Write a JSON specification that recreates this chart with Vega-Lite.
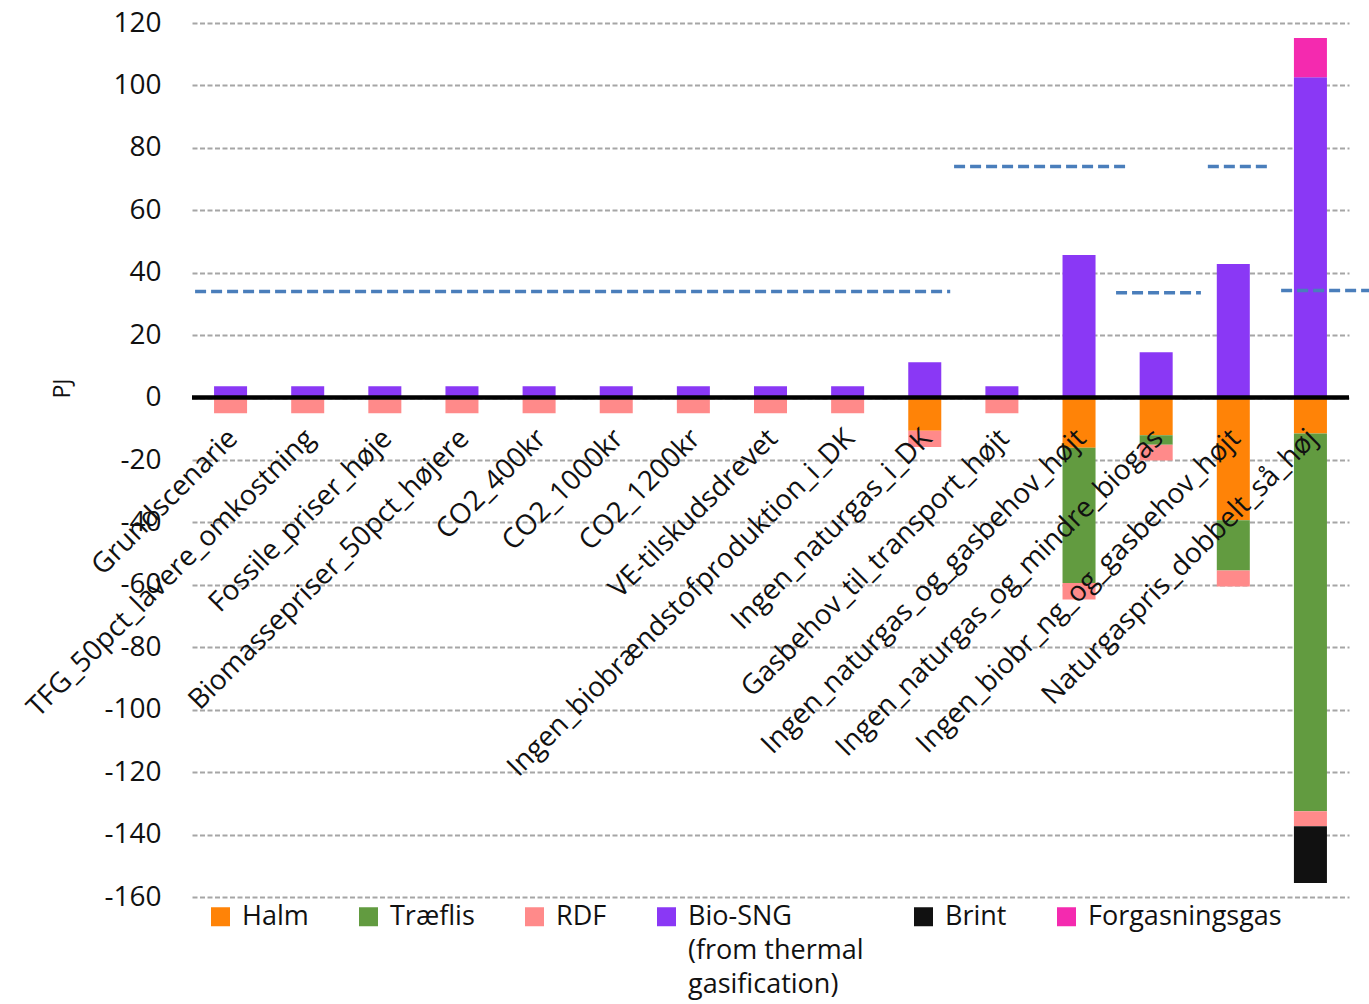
{
  "$schema": "https://vega.github.io/schema/vega-lite/v6.json",
  "width": 1157,
  "height": 874,
  "autosize": {"type": "none"},
  "padding": {"left": 192, "top": 23, "right": 20, "bottom": 107},
  "background": "white",
  "config": {
    "view": {"stroke": null},
    "font": "Open Sans",
    "style": {"guide-label": {"lineHeight": 34}}
  },
  "datasets": {
    "bars": [
      {"scen": "Grundscenarie", "series": "RDF", "value": -5.0},
      {"scen": "Grundscenarie", "series": "Bio-SNG (from thermal gasification)", "value": 3.6},
      {"scen": "TFG_50pct_lavere_omkostning", "series": "RDF", "value": -5.0},
      {"scen": "TFG_50pct_lavere_omkostning", "series": "Bio-SNG (from thermal gasification)", "value": 3.6},
      {"scen": "Fossile_priser_høje", "series": "RDF", "value": -5.0},
      {"scen": "Fossile_priser_høje", "series": "Bio-SNG (from thermal gasification)", "value": 3.6},
      {"scen": "Biomassepriser_50pct_højere", "series": "RDF", "value": -5.0},
      {"scen": "Biomassepriser_50pct_højere", "series": "Bio-SNG (from thermal gasification)", "value": 3.6},
      {"scen": "CO2_400kr", "series": "RDF", "value": -5.0},
      {"scen": "CO2_400kr", "series": "Bio-SNG (from thermal gasification)", "value": 3.6},
      {"scen": "CO2_1000kr", "series": "RDF", "value": -5.0},
      {"scen": "CO2_1000kr", "series": "Bio-SNG (from thermal gasification)", "value": 3.6},
      {"scen": "CO2_1200kr", "series": "RDF", "value": -5.0},
      {"scen": "CO2_1200kr", "series": "Bio-SNG (from thermal gasification)", "value": 3.6},
      {"scen": "VE-tilskudsdrevet", "series": "RDF", "value": -5.0},
      {"scen": "VE-tilskudsdrevet", "series": "Bio-SNG (from thermal gasification)", "value": 3.6},
      {"scen": "Ingen_biobrændstofproduktion_i_DK", "series": "RDF", "value": -5.0},
      {"scen": "Ingen_biobrændstofproduktion_i_DK", "series": "Bio-SNG (from thermal gasification)", "value": 3.6},
      {"scen": "Ingen_naturgas_i_DK", "series": "Halm", "value": -10.6},
      {"scen": "Ingen_naturgas_i_DK", "series": "RDF", "value": -5.2},
      {"scen": "Ingen_naturgas_i_DK", "series": "Bio-SNG (from thermal gasification)", "value": 11.3},
      {"scen": "Gasbehov_til_transport_højt", "series": "RDF", "value": -5.0},
      {"scen": "Gasbehov_til_transport_højt", "series": "Bio-SNG (from thermal gasification)", "value": 3.6},
      {"scen": "Ingen_naturgas_og_gasbehov_højt", "series": "Halm", "value": -16.1},
      {"scen": "Ingen_naturgas_og_gasbehov_højt", "series": "Træflis", "value": -43.3},
      {"scen": "Ingen_naturgas_og_gasbehov_højt", "series": "RDF", "value": -5.3},
      {"scen": "Ingen_naturgas_og_gasbehov_højt", "series": "Bio-SNG (from thermal gasification)", "value": 45.7},
      {"scen": "Ingen_naturgas_og_mindre_biogas", "series": "Halm", "value": -12.1},
      {"scen": "Ingen_naturgas_og_mindre_biogas", "series": "Træflis", "value": -3.0},
      {"scen": "Ingen_naturgas_og_mindre_biogas", "series": "RDF", "value": -5.1},
      {"scen": "Ingen_naturgas_og_mindre_biogas", "series": "Bio-SNG (from thermal gasification)", "value": 14.5},
      {"scen": "Ingen_biobr_ng_og_gasbehov_højt", "series": "Halm", "value": -39.3},
      {"scen": "Ingen_biobr_ng_og_gasbehov_højt", "series": "Træflis", "value": -16.1},
      {"scen": "Ingen_biobr_ng_og_gasbehov_højt", "series": "RDF", "value": -5.1},
      {"scen": "Ingen_biobr_ng_og_gasbehov_højt", "series": "Bio-SNG (from thermal gasification)", "value": 42.8},
      {"scen": "Naturgaspris_dobbelt_så_høj", "series": "Halm", "value": -11.5},
      {"scen": "Naturgaspris_dobbelt_så_høj", "series": "Træflis", "value": -121.0},
      {"scen": "Naturgaspris_dobbelt_så_høj", "series": "RDF", "value": -4.8},
      {"scen": "Naturgaspris_dobbelt_så_høj", "series": "Brint", "value": -18.2},
      {"scen": "Naturgaspris_dobbelt_så_høj", "series": "Bio-SNG (from thermal gasification)", "value": 102.6},
      {"scen": "Naturgaspris_dobbelt_så_høj", "series": "Forgasningsgas", "value": 12.6}
    ],
    "scenarios": [
      {"scen": "Grundscenarie"},
      {"scen": "TFG_50pct_lavere_omkostning"},
      {"scen": "Fossile_priser_høje"},
      {"scen": "Biomassepriser_50pct_højere"},
      {"scen": "CO2_400kr"},
      {"scen": "CO2_1000kr"},
      {"scen": "CO2_1200kr"},
      {"scen": "VE-tilskudsdrevet"},
      {"scen": "Ingen_biobrændstofproduktion_i_DK"},
      {"scen": "Ingen_naturgas_i_DK"},
      {"scen": "Gasbehov_til_transport_højt"},
      {"scen": "Ingen_naturgas_og_gasbehov_højt"},
      {"scen": "Ingen_naturgas_og_mindre_biogas"},
      {"scen": "Ingen_biobr_ng_og_gasbehov_højt"},
      {"scen": "Naturgaspris_dobbelt_så_høj"}
    ],
    "refs": [
      {"from": 0.04, "to": 9.83, "level": 34.0},
      {"from": 9.88, "to": 12.11, "level": 74.0},
      {"from": 11.98, "to": 13.08, "level": 33.6},
      {"from": 13.17, "to": 13.95, "level": 74.0},
      {"from": 14.12, "to": 15.26, "level": 34.3}
    ]
  },
  "layer": [
    {
      "data": {"name": "bars"},
      "transform": [
        {"calculate": "indexof(['Halm','Træflis','RDF','Bio-SNG (from thermal gasification)','Brint','Forgasningsgas'], datum.series)", "as": "ord"}
      ],
      "mark": {"type": "bar"},
      "encoding": {
        "x": {
          "field": "scen", "type": "nominal", "sort": null,
          "scale": {"domain": ["Grundscenarie","TFG_50pct_lavere_omkostning","Fossile_priser_høje","Biomassepriser_50pct_højere","CO2_400kr","CO2_1000kr","CO2_1200kr","VE-tilskudsdrevet","Ingen_biobrændstofproduktion_i_DK","Ingen_naturgas_i_DK","Gasbehov_til_transport_højt","Ingen_naturgas_og_gasbehov_højt","Ingen_naturgas_og_mindre_biogas","Ingen_biobr_ng_og_gasbehov_højt","Naturgaspris_dobbelt_så_høj"], "paddingInner": 0.572, "paddingOuter": 0.286},
          "axis": null
        },
        "y": {
          "field": "value", "type": "quantitative", "stack": "zero",
          "scale": {"domain": [-160, 120], "nice": false, "zero": false},
          "axis": {
            "values": [-160,-140,-120,-100,-80,-60,-40,-20,0,20,40,60,80,100,120],
            "labelExpr": "'' + datum.value",
            "grid": true, "gridDash": [5, 2.5], "gridColor": "#A6A6A6", "gridWidth": 2,
            "domain": false, "ticks": false,
            "labelFont": "Open Sans", "labelFontSize": 28, "labelColor": "#111111", "labelPadding": 31,
            "title": "PJ", "titleFont": "Open Sans", "titleFontSize": 23, "titleFontWeight": "normal", "titleColor": "#111111",
            "titleAngle": 270, "titleX": -130, "titleY": 365, "titleAlign": "center", "titleBaseline": "middle"
          }
        },
        "color": {
          "field": "series", "type": "nominal",
          "scale": {
            "domain": ["Halm","Træflis","RDF","Bio-SNG (from thermal gasification)","Brint","Forgasningsgas"],
            "range": ["#FF8307","#629B40","#FF8A8A","#8A38F5","#111111","#F42AAF"]
          },
          "legend": {
            "title": null, "orient": "none", "legendX": 15, "legendY": 880, "direction": "horizontal",
            "symbolType": "square", "symbolSize": 361, "symbolStrokeWidth": 0,
            "labelFont": "Open Sans", "labelFontSize": 27, "labelColor": "#111111", "labelLimit": 400,
            "columnPadding": 46, "labelOffset": 8,
            "labelExpr": "datum.label == 'Bio-SNG (from thermal gasification)' ? ['Bio-SNG','(from thermal','gasification)'] : [datum.label, '', '']"
          }
        },
        "order": {"field": "ord", "type": "quantitative"}
      }
    },
    {
      "data": {"name": "scenarios"},
      "mark": {"type": "text", "angle": 315, "align": "right", "baseline": "top", "font": "Open Sans", "fontSize": 28, "color": "#111111", "xOffset": -7, "yOffset": 27},
      "encoding": {
        "x": {"field": "scen", "type": "nominal", "sort": null, "axis": null},
        "y": {"datum": 0},
        "text": {"field": "scen"}
      }
    },
    {
      "data": {"values": [{}]},
      "mark": {"type": "rule", "color": "#000000", "strokeWidth": 4.5},
      "encoding": {"y": {"datum": 0}}
    },
    {
      "data": {"name": "refs"},
      "mark": {"type": "rule", "color": "#4A7EBB", "strokeWidth": 3.5, "strokeDash": [11, 5], "clip": false},
      "encoding": {
        "x": {"field": "from", "type": "quantitative", "scale": {"domain": [0, 15], "nice": false, "zero": false}, "axis": null},
        "x2": {"field": "to"},
        "y": {"field": "level", "type": "quantitative"}
      }
    }
  ],
  "resolve": {"scale": {"x": "independent"}}
}
